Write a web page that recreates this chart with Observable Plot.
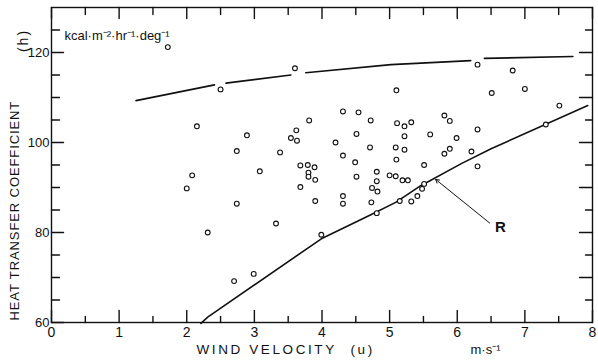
<!DOCTYPE html>
<html>
<head>
<meta charset="utf-8">
<script src="https://cdn.jsdelivr.net/npm/d3@7"></script>
<script src="https://cdn.jsdelivr.net/npm/@observablehq/plot@0.6"></script>
<style>
  html, body { margin: 0; padding: 0; background: white; }
  svg text { font-family: "Liberation Sans", Arial, sans-serif; }
</style>
</head>
<body>
<div id="chart"></div>
<script>
// Observations: wind velocity (m/s) and heat transfer coefficient
const windU = [1.72,2.50,2.15,2.08,2.00,2.31,3.60,3.81,3.62,3.54,3.63,2.89,2.74,3.38,3.08,3.68,3.79,3.89,3.80,3.80,3.90,3.68,3.90,2.74,3.32,3.99,2.70,2.99,
  5.10,4.31,4.54,4.72,5.11,5.22,5.32,4.51,5.22,4.20,4.71,5.09,5.22,4.31,4.49,5.10,4.51,4.81,5.00,5.09,5.19,5.27,4.81,4.74,4.82,4.31,4.31,4.73,5.15,5.32,4.81,
  5.41,5.48,5.51,5.51,5.81,5.89,5.60,5.99,6.30,6.21,6.30,5.81,5.89,6.30,6.51,6.82,7.00,7.51,7.31];
const heatH = [121.2,111.8,103.6,92.7,89.8,80.0,116.5,104.9,102.7,101.0,100.4,101.6,98.1,97.8,93.6,94.9,95.0,94.5,93.3,92.4,91.7,90.1,87.0,86.4,82.0,79.5,69.2,70.8,
  111.6,106.9,106.7,104.9,104.3,103.6,104.5,101.9,101.4,100.0,98.9,98.9,98.4,97.1,95.6,96.2,92.4,93.5,92.7,92.5,91.6,91.6,91.4,89.9,89.1,88.1,86.4,86.7,87.0,86.9,84.3,
  88.1,89.7,90.8,95.0,97.5,98.6,101.8,101.0,102.9,98.0,94.7,106.0,104.8,117.3,111.0,116.0,111.9,108.2,104.0];

// Upper envelope curve (segments broken where they pass circles)
const upperU   = [1.25,2.41, 2.58,3.54, 3.76,5.02,6.20, 6.40,7.71];
const upperH   = [109.3,112.8, 113.2,115.0, 115.5,117.3,118.2, 118.7,119.1];
const upperSeg = [0,0, 1,1, 2,2,2, 3,3];

// Lower line R
const lowerU = [2.21,2.31,3.99,4.73,5.09,5.46,6.06,6.50,7.93];
const lowerH = [59.8,61.2,78.6,84.0,86.7,90.4,95.3,98.6,108.2];

// Arrow pointing to R line, and label position
const arrowFrom = [6.48, 82.1];
const arrowTo   = [5.68, 91.8];
const rLabel = {u: 6.56, h: 81.2, text: "R"};

// Ticks
const xDomain = [0, 8];
const yDomain = [60, 130];
const xMajor = [0,1,2,3,4,5,6,7,8];
const xMinor = [0.5,1.5,2.5,3.5,4.5,5.5,6.5,7.5];
const yLabels = [60,80,100,120];
const yMinorLeft = [65,70,75,85,90,95,105,110,115,125];
const yMajorRight = [70,80,90,100,110,120];
const yMinorRight = [65,75,85,95,105,115,125];

const points = windU.map((u, i) => ({u, h: heatH[i]}));
const upper = upperU.map((u, i) => ({u, h: upperH[i], seg: upperSeg[i]}));
const lower = lowerU.map((u, i) => ({u, h: lowerH[i]}));

const W = 598, H = 362, mL = 51, mR = 6, mT = 7, mB = 40;
const fw = W - mL - mR, fh = H - mT - mB;
const kx = (xDomain[1] - xDomain[0]) / fw;  // data units per pixel
const ky = (yDomain[1] - yDomain[0]) / fh;
const ink = "#111";

// Inward tick marks: each tick is a two-point segment built from the tick arrays (lengths in px)
const tickRows = [];
let tid = 0;
function addX(vals, len, side) {
  const a = side === "bottom" ? yDomain[0] : yDomain[1];
  const b = side === "bottom" ? yDomain[0] + len * ky : yDomain[1] - len * ky;
  vals.forEach(v => { tickRows.push({u: v, h: a, k: tid}, {u: v, h: b, k: tid}); tid++; });
}
function addY(vals, len, side) {
  const a = side === "left" ? xDomain[0] : xDomain[1];
  const b = side === "left" ? xDomain[0] + len * kx : xDomain[1] - len * kx;
  vals.forEach(v => { tickRows.push({u: a, h: v, k: tid}, {u: b, h: v, k: tid}); tid++; });
}
addX(xMajor, 12, "bottom");
addX(xMinor, 6, "bottom");
addX(xMajor, 11, "top");
addX(xMinor, 7, "top");
addY(yLabels, 12, "left");
addY(yMinorLeft, 8, "left");
addY(yMajorRight, 13, "right");
addY(yMinorRight, 7, "right");

const chart = Plot.plot({
  width: W,
  height: H,
  marginLeft: mL,
  marginRight: mR,
  marginTop: mT,
  marginBottom: mB,
  x: {domain: xDomain},
  y: {domain: yDomain},
  style: {background: "white", color: ink, fontFamily: "Liberation Sans, Arial, sans-serif"},
  marks: [
    Plot.frame({stroke: ink, strokeWidth: 1.4}),
    Plot.line(tickRows, {x: "u", y: "h", z: "k", stroke: ink, strokeWidth: 1.4}),
    Plot.axisX(xMajor, {anchor: "bottom", tickSize: 0, tickPadding: 5, fontSize: 14, label: null, tickFormat: d => String(d)}),
    Plot.axisY(yLabels, {anchor: "left", tickSize: 0, tickPadding: 2, fontSize: 13, label: null, tickFormat: d => String(d)}),
    // curves
    Plot.line(upper, {x: "u", y: "h", z: "seg", stroke: ink, strokeWidth: 1.6}),
    Plot.line(lower, {x: "u", y: "h", stroke: ink, strokeWidth: 1.6}),
    // observations
    Plot.dot(points, {x: "u", y: "h", r: 2.4, stroke: ink, strokeWidth: 1.1, fill: "white"}),
    // arrow and R label
    Plot.arrow([{a: arrowFrom, b: arrowTo}], {x1: d => d.a[0], y1: d => d.a[1], x2: d => d.b[0], y2: d => d.b[1], stroke: ink, strokeWidth: 1, headLength: 6, inset: 0}),
    Plot.text([rLabel], {x: "u", y: "h", text: "text", textAnchor: "start", fontSize: 15, fontWeight: "bold", fill: ink}),
    // units
    Plot.text(["kcal·m⁻²·hr⁻¹·deg⁻¹"], {frameAnchor: "top-left", dx: 13, dy: 23, textAnchor: "start", fontSize: 13, fill: ink}),
    // axis titles
    Plot.text(["WIND VELOCITY"], {frameAnchor: "bottom-left", dx: 145, dy: 31, textAnchor: "start", fontSize: 13.5, fill: ink}),
    Plot.text(["(u)"], {frameAnchor: "bottom-left", dx: 299, dy: 31, textAnchor: "start", fontSize: 13.5, fill: ink}),
    Plot.text(["m·s⁻¹"], {frameAnchor: "bottom-left", dx: 419, dy: 31, textAnchor: "start", fontSize: 13, fill: ink}),
    Plot.text(["HEAT TRANSFER COEFFICIENT"], {frameAnchor: "bottom-left", dx: -33, dy: -2, rotate: -90, textAnchor: "start", fontSize: 13, fill: ink}),
    Plot.text(["(h)"], {frameAnchor: "top-left", dx: -33, dy: 33, rotate: -90, textAnchor: "middle", fontSize: 14, fill: ink})
  ]
});
document.getElementById("chart").appendChild(chart);
d3.select(chart).selectAll("text").each(function() {
  const t = this.textContent;
  if (t === "WIND VELOCITY" || t === "(u)") d3.select(this).style("letter-spacing", "2.6px");
  if (t === "HEAT TRANSFER COEFFICIENT") d3.select(this).style("letter-spacing", "0.9px");
  if (t === "(h)") d3.select(this).style("letter-spacing", "2px");
});
</script>
</body>
</html>
